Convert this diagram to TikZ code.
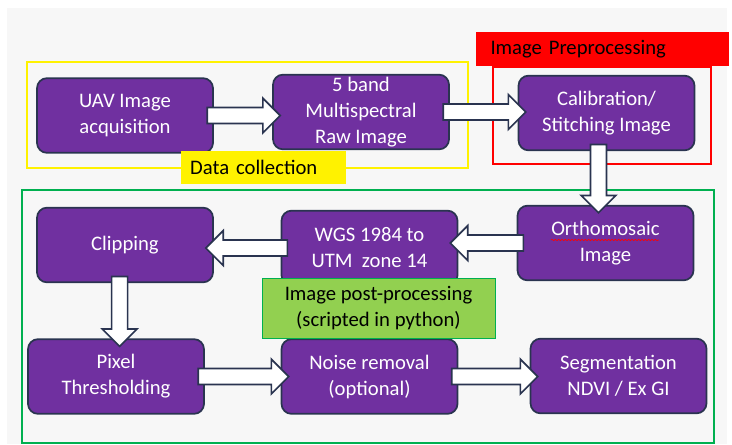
\documentclass[tikz,border=0pt]{standalone}
\usepackage{fontspec}
\setmainfont{Carlito}
\usetikzlibrary{calc,decorations.pathmorphing}
\definecolor{boxpurple}{HTML}{7030A0}
\definecolor{boxline}{HTML}{2A3450}
\definecolor{framegreen}{HTML}{00B050}
\definecolor{labelgreen}{HTML}{92D050}
\tikzset{
  procbox/.style={rectangle,rounded corners=7.5pt,draw=boxline,line width=1.3pt,fill=boxpurple,
    text=white,align=center,inner sep=0pt,minimum width=132pt,minimum height=56pt,
    font=\fontsize{15.5}{19.5}\selectfont},
  fatarrow/.style={draw=boxline,fill=white,line width=1.2pt,line join=miter},
  tag/.style={rectangle,inner sep=0pt,text=black,font=\fontsize{15.5}{19.5}\selectfont}
}
% hollow block arrow from #1 to #2
\newcommand{\barrow}[2]{%
  \coordinate (s) at ($(#1)!-5pt!(#2)$);
  \coordinate (t) at ($(#2)!-6pt!(#1)$);
  \coordinate (h) at ($(t)!13pt!(s)$);
  \draw[fatarrow] ($(s)!6pt!90:(t)$) -- ($(h)!6pt!90:(t)$) -- ($(h)!13pt!90:(t)$) -- (t)
    -- ($(h)!13pt!-90:(t)$) -- ($(h)!6pt!-90:(t)$) -- ($(s)!6pt!-90:(t)$) -- cycle;
}

\begin{document}
\begin{tikzpicture}[x=0.75pt,y=-0.75pt]
\useasboundingbox (0,0) rectangle (732,444);
\fill[black!3] (7,8) rectangle (727,444);

% frames
\draw[yellow,line width=1.5pt] (27,62) rectangle (468,168);
\draw[red,line width=1.5pt] (493,67) rectangle (711,164);
\draw[framegreen,line width=1.5pt] (22,190) rectangle (714,443);

% process boxes
\node[procbox] (uav) at (125,115.5) {UAV Image\\acquisition};
\node[procbox] (band) at (361,112) {5 band\\Multispectral\\Raw Image};
\node[procbox] (calib) at (606.5,113) {Calibration/\\Stitching Image};
\node[procbox] (ortho) at (605.5,243) {Orthomosaic\\Image};
\node[procbox] (wgs) at (369.5,248) {WGS 1984 to\\UTM~~zone 14};
\node[procbox] (clip) at (125,245) {Clipping};
\node[procbox] (pix) at (116,376.5) {Pixel\\Thresholding};
\node[procbox] (noise) at (369.5,376.5) {Noise removal\\(optional)};
\node[procbox] (seg) at (618.5,376) {Segmentation\\NDVI / Ex GI};
\draw[red,line width=0.5pt,decorate,decoration={snake,amplitude=0.5pt,segment length=2.5pt}]
  (551,240) -- (659,240);

% arrows
\barrow{uav.east}{uav.east -| band.west}
\barrow{band.east}{band.east -| calib.west}
\barrow{[xshift=-6pt]calib.south}{[xshift=-6pt]calib.south |- ortho.north}
\barrow{ortho.west}{ortho.west -| wgs.east}
\barrow{wgs.west}{wgs.west -| clip.east}
\barrow{[xshift=-4pt]clip.south}{[xshift=-4pt]clip.south |- pix.north}
\barrow{pix.east}{pix.east -| noise.west}
\barrow{noise.east}{noise.east -| seg.west}

% group labels
\node[tag,fill=yellow,minimum height=24.75pt,text width=110pt,inner xsep=7pt,align=left] (datalab)
  at (263.5,167.5) {Data collection};
\node[tag,fill=red,minimum height=25.5pt,text width=168pt,inner xsep=11pt,align=left] (prelab)
  at (602.5,49) {Image Preprocessing};
\node[tag,fill=labelgreen,draw=framegreen,line width=0.6pt,minimum width=174.75pt,minimum height=45pt,align=center] (postlab)
  at (378.5,308) {Image post-processing\\(scripted in python)};
\end{tikzpicture}
\end{document}
